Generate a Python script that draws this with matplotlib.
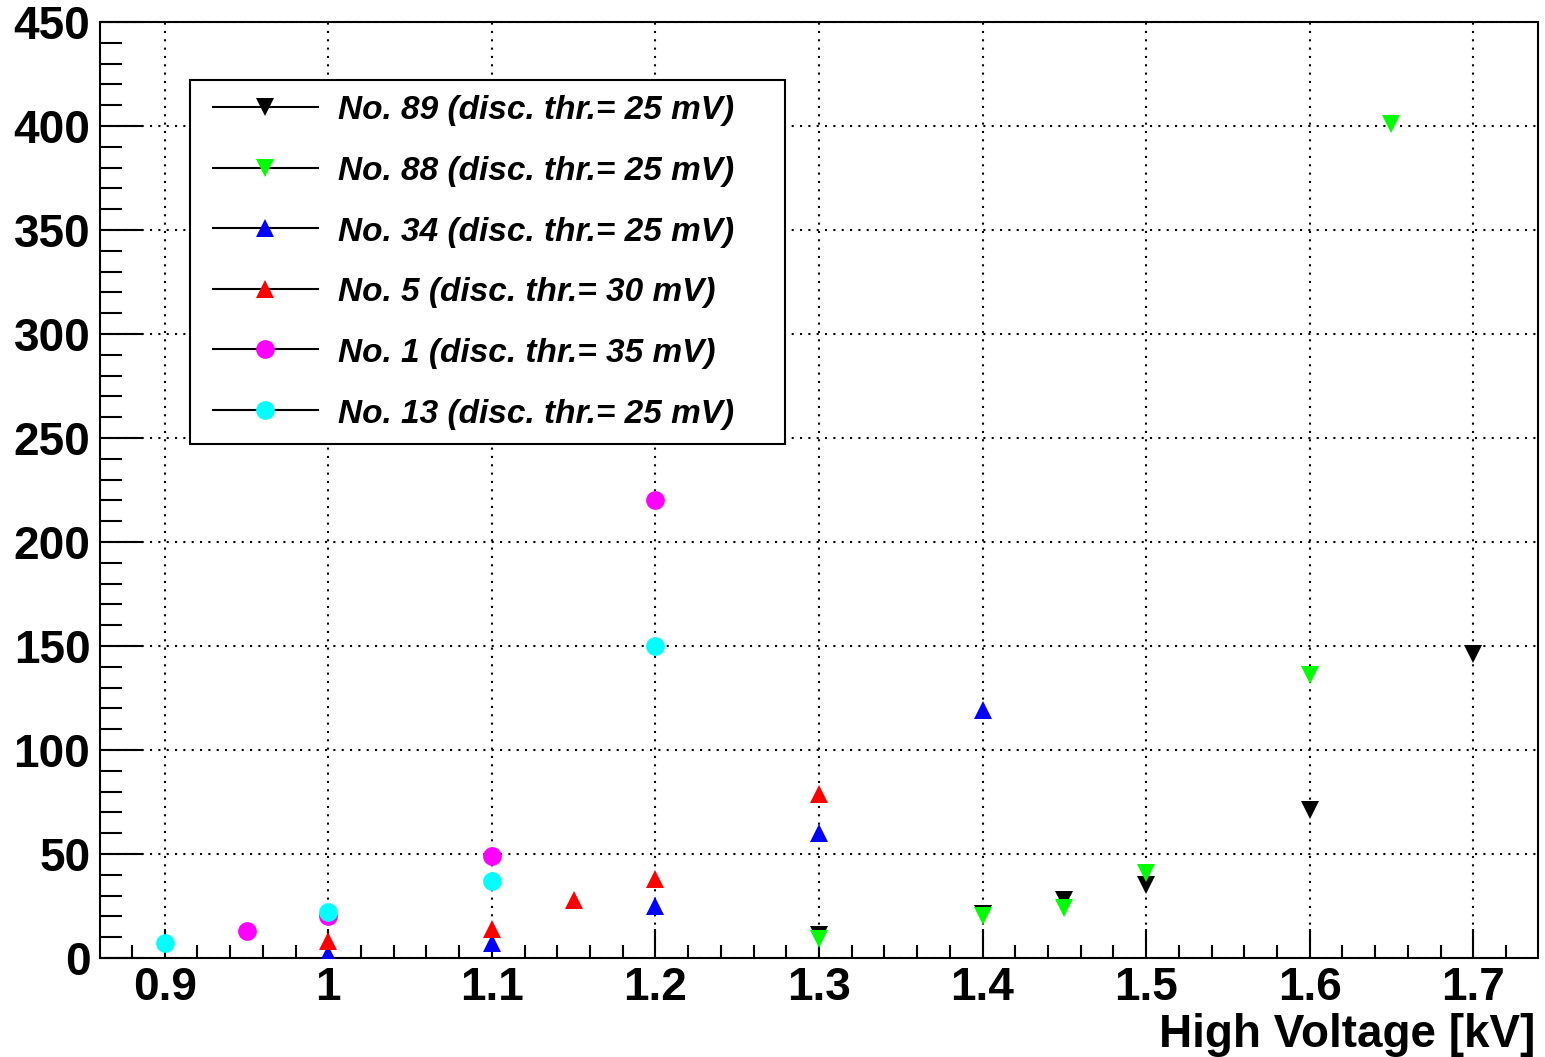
import matplotlib
matplotlib.use("Agg")
import matplotlib.pyplot as plt
from matplotlib.lines import Line2D
from matplotlib.patches import Rectangle
from matplotlib.ticker import MultipleLocator

# ---- data ----
hv_89 = [1.3, 1.4, 1.45, 1.5, 1.6, 1.7]
rate_89 = [11, 21, 28, 35, 71, 146]
hv_88 = [1.3, 1.4, 1.45, 1.5, 1.6, 1.65]
rate_88 = [9, 20, 24, 41, 136, 401]
hv_34 = [1.0, 1.1, 1.2, 1.3, 1.4]
rate_34 = [2, 7, 25, 60, 119]
hv_5 = [1.0, 1.1, 1.15, 1.2, 1.3]
rate_5 = [8, 14, 28, 38, 79]
hv_1 = [0.95, 1.0, 1.1, 1.2]
rate_1 = [13, 20, 49, 220]
hv_13 = [0.9, 1.0, 1.1, 1.2]
rate_13 = [7, 22, 37, 150]

labels = ["No. 89 (disc. thr.= 25 mV)", "No. 88 (disc. thr.= 25 mV)",
          "No. 34 (disc. thr.= 25 mV)", "No. 5 (disc. thr.= 30 mV)",
          "No. 1 (disc. thr.= 35 mV)", "No. 13 (disc. thr.= 25 mV)"]
colors = ["#000000", "#00ff00", "#0000ff", "#ff0000", "#ff00ff", "#00ffff"]
markers = ["v", "v", "^", "^", "o", "o"]
xs = [hv_89, hv_88, hv_34, hv_5, hv_1, hv_13]
ys = [rate_89, rate_88, rate_34, rate_5, rate_1, rate_13]

x_ticks = [0.9, 1.0, 1.1, 1.2, 1.3, 1.4, 1.5, 1.6, 1.7]
x_ticklabels = ["0.9", "1", "1.1", "1.2", "1.3", "1.4", "1.5", "1.6", "1.7"]
y_ticks = [0, 50, 100, 150, 200, 250, 300, 350, 400, 450]
xlabel = "High Voltage [kV]"

W, H = 1545, 1057
fig = plt.figure(figsize=(W / 100, H / 100), dpi=100)
ax = fig.add_axes([100 / W, 99 / H, 1438 / W, 936 / H])

for i, (x, y) in enumerate(zip(xs, ys)):
    ax.plot(x, y, linestyle="none", marker=markers[i], color=colors[i],
            markersize=13.5, markeredgewidth=0, zorder=3 + i)

ax.set_xlim(0.8604, 1.7396)
ax.set_ylim(0, 450)
ax.set_xticks(x_ticks)
ax.set_xticklabels(x_ticklabels)
ax.set_yticks(y_ticks)
ax.xaxis.set_minor_locator(MultipleLocator(0.02))
ax.yaxis.set_minor_locator(MultipleLocator(10))

for lab in ax.get_xticklabels() + ax.get_yticklabels():
    lab.set_fontfamily("Liberation Sans")
    lab.set_fontweight("bold")
    lab.set_fontsize(33)

ax.tick_params(axis="x", which="major", direction="in", length=21, width=1.5, pad=6)
ax.tick_params(axis="x", which="minor", direction="in", length=9.5, width=1.5)
ax.tick_params(axis="y", which="major", direction="in", length=31, width=1.5, pad=7)
ax.tick_params(axis="y", which="minor", direction="in", length=16, width=1.5)
ax.tick_params(top=False, right=False, which="both")

for sp in ax.spines.values():
    sp.set_linewidth(1.5)

ax.grid(True, which="major", color="black", linestyle=(0, (1, 3)), linewidth=1.5, zorder=1)
ax.set_axisbelow(True)

fig.text(1535 / W, 1 - 1047 / H, xlabel, ha="right", va="baseline",
         fontfamily="Liberation Sans", fontweight="bold", fontsize=33)

# ---- legend (drawn manually to match box geometry) ----
def fx(px):
    return px / W

def fy(py):
    return 1 - py / H

box = Rectangle((fx(190), fy(444)), fx(785) - fx(190), fy(80) - fy(444),
                transform=fig.transFigure, facecolor="white", edgecolor="black",
                linewidth=1.5, zorder=20)
fig.patches.append(box)
for i in range(len(labels)):
    yc = 107 + i * 60.6
    fig.lines.append(Line2D([fx(213), fx(318)], [fy(yc), fy(yc)], color="black",
                            linewidth=1.5, transform=fig.transFigure, zorder=21))
    fig.lines.append(Line2D([fx(265)], [fy(yc)], marker=markers[i], color=colors[i],
                            markersize=13.5, markeredgewidth=0, linestyle="none",
                            transform=fig.transFigure, zorder=22))
    fig.text(fx(338), fy(yc + 4), labels[i], ha="left", va="center",
             fontfamily="Liberation Sans", fontweight="bold", fontstyle="italic",
             fontsize=24, zorder=23)

fig.savefig("out.png", dpi=100)
